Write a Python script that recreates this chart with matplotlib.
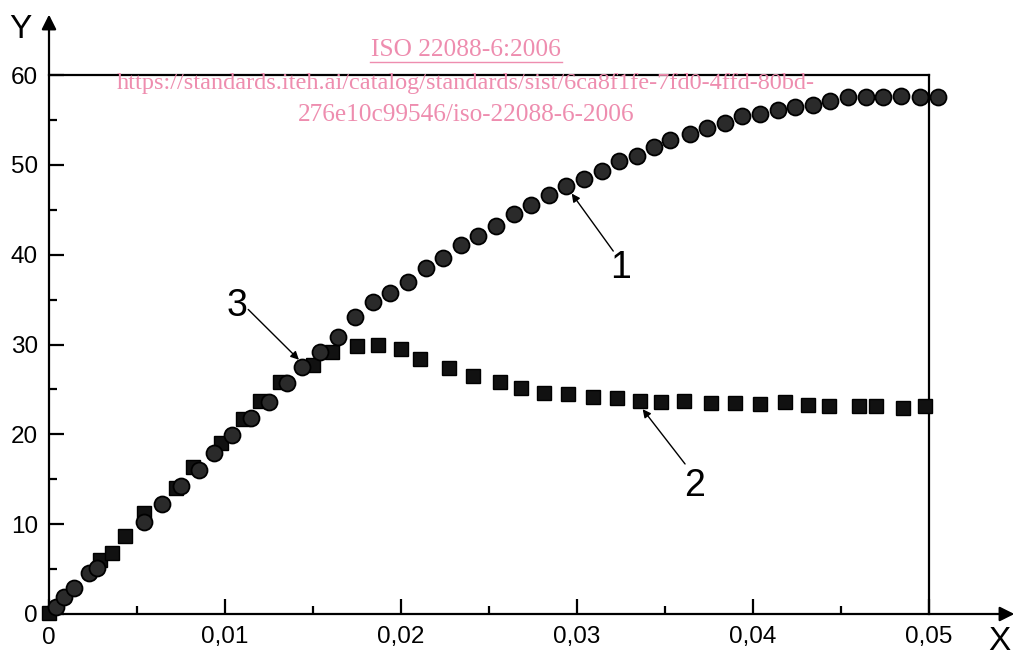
import matplotlib
matplotlib.use("Agg")
import matplotlib.pyplot as plt
from matplotlib.ticker import MultipleLocator, FuncFormatter

plt.rcParams["font.family"] = ["Liberation Sans", "DejaVu Sans"]

# --- dane ---
# krzywa 1 (kola)
x1 = [0.0004, 0.00085, 0.0014, 0.0023, 0.0027, 0.0054, 0.0064, 0.0075, 0.0085,
      0.0094, 0.0104, 0.0115, 0.0125, 0.0135, 0.0144, 0.0154, 0.0164, 0.0174,
      0.0184, 0.0194, 0.0204, 0.0214, 0.0224, 0.0234, 0.0244, 0.0254, 0.0264,
      0.0274, 0.0284, 0.0294, 0.0304, 0.0314, 0.0324, 0.0334, 0.0344, 0.0353,
      0.0364, 0.0374, 0.0384, 0.0394, 0.0404, 0.0414, 0.0424, 0.0434, 0.0444,
      0.0454, 0.0464, 0.0474, 0.0484, 0.0495, 0.0505]
y1 = [0.8, 1.9, 2.9, 4.6, 5.1, 10.2, 12.3, 14.2, 16.0, 17.9, 19.9, 21.8, 23.6,
      25.7, 27.5, 29.2, 30.8, 33.1, 34.7, 35.7, 37.0, 38.5, 39.6, 41.1, 42.1,
      43.2, 44.5, 45.5, 46.6, 47.6, 48.4, 49.3, 50.4, 51.0, 52.0, 52.8, 53.4,
      54.1, 54.7, 55.4, 55.7, 56.1, 56.4, 56.7, 57.1, 57.5, 57.5, 57.6, 57.7,
      57.6, 57.6]

# krzywa 2 (kwadraty)
x2 = [0.0, 0.0029, 0.0036, 0.0043, 0.0054, 0.0072, 0.0082, 0.0098, 0.0110,
      0.0120, 0.0131, 0.0150, 0.0161, 0.0175, 0.0187, 0.0200, 0.0211, 0.0227,
      0.0241, 0.0256, 0.0268, 0.0281, 0.0295, 0.0309, 0.0323, 0.0336, 0.0348,
      0.0361, 0.0376, 0.0390, 0.0404, 0.0418, 0.0431, 0.0443, 0.0460, 0.0470,
      0.0485, 0.0498]
y2 = [0.1, 6.0, 6.8, 8.7, 11.2, 14.0, 16.4, 19.0, 21.7, 23.7, 25.8, 27.7, 29.2,
      29.8, 30.0, 29.5, 28.4, 27.4, 26.5, 25.8, 25.2, 24.6, 24.5, 24.2, 24.0,
      23.7, 23.6, 23.7, 23.5, 23.5, 23.4, 23.6, 23.3, 23.1, 23.2, 23.1, 22.9,
      23.1]

xticks = [0, 0.01, 0.02, 0.03, 0.04, 0.05]
yticks = [0, 10, 20, 30, 40, 50, 60]

PINK = "#EE8DAF"

fig = plt.figure(figsize=(10.15, 6.53), dpi=100)
ax = fig.add_axes([49 / 1015, 39 / 653, 880 / 1015, 539 / 653])

ax.plot(x2, y2, ls="none", marker="s", ms=10, mfc="#111111", mec="black",
        mew=1.0, clip_on=False, zorder=4)
ax.plot(x1, y1, ls="none", marker="o", ms=11.5, mfc="#2a2a2a", mec="black",
        mew=1.3, clip_on=False, zorder=5)

ax.set_xlim(0, 0.05)
ax.set_ylim(0, 60)

for s in ax.spines.values():
    s.set_linewidth(1.6)
ax.spines["left"].set_visible(False)
ax.spines["bottom"].set_visible(False)

# osie ze strzalkami
ax.annotate("", xy=(0, 1.112), xytext=(0, 0), xycoords="axes fraction",
            arrowprops=dict(arrowstyle="-|>", color="black", lw=1.6,
                            mutation_scale=22, shrinkA=0, shrinkB=0),
            annotation_clip=False)
ax.annotate("", xy=(1.097, 0), xytext=(0, 0), xycoords="axes fraction",
            arrowprops=dict(arrowstyle="-|>", color="black", lw=1.6,
                            mutation_scale=22, shrinkA=0, shrinkB=0),
            annotation_clip=False)

ax.set_xticks(xticks)
ax.set_yticks(yticks)
ax.xaxis.set_minor_locator(MultipleLocator(0.005))
ax.yaxis.set_minor_locator(MultipleLocator(5))
ax.xaxis.set_major_formatter(FuncFormatter(
    lambda v, p: "0" if v == 0 else ("%.2f" % v).replace(".", ",")))
ax.yaxis.set_major_formatter(FuncFormatter(lambda v, p: "%d" % v))
ax.tick_params(which="both", direction="in", width=1.6, top=False, right=False)
ax.tick_params(which="major", length=11, labelsize=17.5)
ax.tick_params(which="minor", length=6)
ax.tick_params(axis="x", which="major", pad=9)
ax.tick_params(axis="y", which="major", pad=8)

fig.text(999 / 1015, 1 - 641 / 653, "X", fontsize=24, ha="center", va="center")
fig.text(20 / 1015, 1 - 30 / 653, "Y", fontsize=24, ha="center", va="center")

# oznaczenia krzywych
arw = dict(arrowstyle="-|>", color="black", lw=1.0, mutation_scale=12,
           shrinkA=0, shrinkB=0)
ax.annotate("", xy=(0.0297, 46.8), xytext=(0.03206, 40.4), arrowprops=arw)
ax.text(0.0325, 38.5, "1", fontsize=27, ha="center", va="center")
ax.annotate("", xy=(0.03373, 22.8), xytext=(0.03614, 16.7), arrowprops=arw)
ax.text(0.0367, 14.25, "2", fontsize=27, ha="center", va="center")
ax.annotate("", xy=(0.0142, 28.3), xytext=(0.01132, 33.9), arrowprops=arw)
ax.text(0.0107, 34.25, "3", fontsize=27, ha="center", va="center")

# znak wodny
wm = dict(family=["Liberation Serif", "DejaVu Serif"], color=PINK,
          ha="center", va="center", zorder=10)
fig.text(466 / 1015, 1 - 50 / 653, "ISO 22088-6:2006", fontsize=18.3, **wm)
fig.add_artist(plt.Line2D([370 / 1015, 562 / 1015], [1 - 62 / 653, 1 - 62 / 653],
                          color=PINK, lw=1.0))
fig.text(466 / 1015, 1 - 84 / 653,
         "https://standards.iteh.ai/catalog/standards/sist/6ca8f1fe-7fd0-4ffd-80bd-",
         fontsize=17.5, **wm)
fig.text(466 / 1015, 1 - 115 / 653, "276e10c99546/iso-22088-6-2006",
         fontsize=18.2, **wm)

fig.savefig("out.png", dpi=100, facecolor="white")
